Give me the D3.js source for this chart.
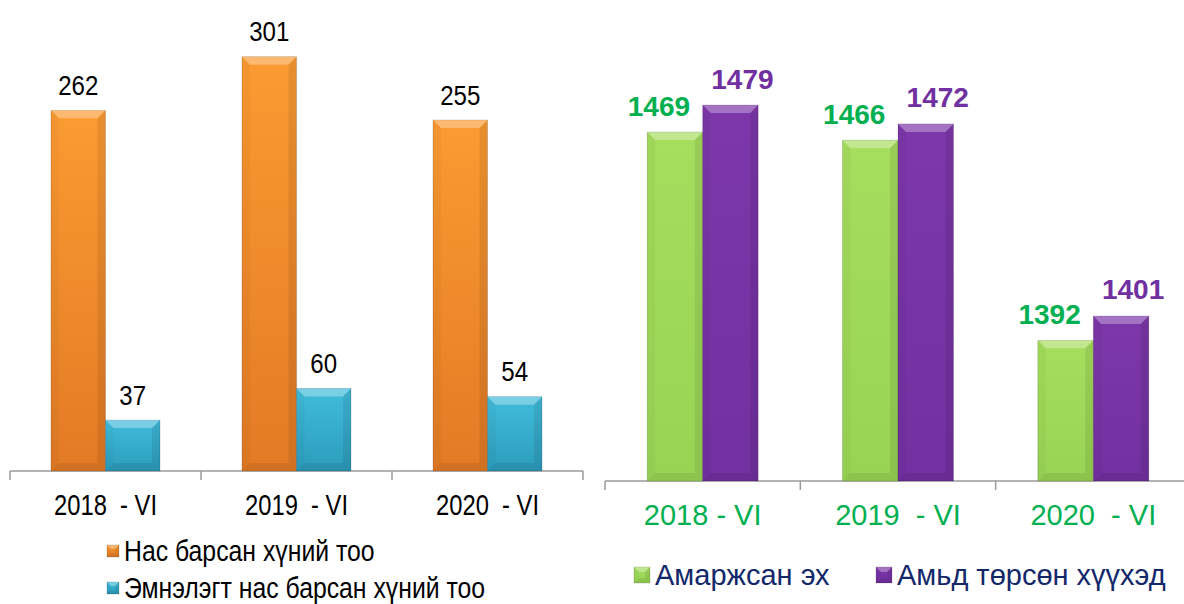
<!DOCTYPE html>
<html>
<head>
<meta charset="utf-8">
<script src="https://cdn.jsdelivr.net/npm/d3@7"></script>
<style>
  body { margin: 0; background: #fff; }
  svg { display: block; font-family: "Liberation Sans", Arial, sans-serif; }
  svg text { white-space: pre; }
</style>
</head>
<body>
<svg id="chart" width="1184" height="604"></svg>
<script>
// data
var leftCats = ['2018  - VI', '2019  - VI', '2020  - VI'],
    rightCats = ['2018 - VI', '2019  - VI', '2020  - VI'],
    deaths = [262, 301, 255],          // Нас барсан хүний тоо
    hospDeaths = [37, 60, 54],         // Эмнэлэгт нас барсан хүний тоо
    mothers = [1469, 1466, 1392],      // Амаржсан эх
    liveBirths = [1479, 1472, 1401],   // Амьд төрсөн хүүхэд
    leftNames = ['Нас барсан хүний тоо', 'Эмнэлэгт нас барсан хүний тоо'],
    rightNames = ['Амаржсан эх', 'Амьд төрсөн хүүхэд'];

var svg = d3.select('#chart'),
    defs = svg.append('defs');

// vertical gradients for the bevelled bars
function grad(id, top, bottom) {
  var g = defs.append('linearGradient').attr('id', id)
    .attr('x1', 0).attr('y1', 0).attr('x2', 0).attr('y2', 1);
  g.append('stop').attr('offset', '0%').attr('stop-color', top);
  g.append('stop').attr('offset', '100%').attr('stop-color', bottom);
}
grad('g-orange', '#FB9B32', '#E27A25');
grad('g-cyan', '#41BCDB', '#2C9CBC');
grad('g-green', '#A6DE5E', '#98D454');
grad('g-purple', '#7D37AA', '#7230A0');

// draws one bevelled bar
function bevelBar(g, x, y, w, h, fill, b) {
  b = Math.min(b || 8, h / 3);
  g.append('rect').attr('x', x).attr('y', y).attr('width', w).attr('height', h)
    .attr('fill', fill).attr('stroke', 'rgba(0,0,0,0.18)').attr('stroke-width', 0.8);
  g.append('polygon')
    .attr('points', [[x, y], [x + w, y], [x + w - b, y + b], [x + b, y + b]].join(' '))
    .attr('fill', '#fff').attr('opacity', 0.3);
  g.append('polygon')
    .attr('points', [[x, y + h], [x + w, y + h], [x + w - b, y + h - b], [x + b, y + h - b]].join(' '))
    .attr('fill', '#000').attr('opacity', 0.08);
  g.append('polygon')
    .attr('points', [[x, y], [x + b, y + b], [x + b, y + h - b], [x, y + h]].join(' '))
    .attr('fill', '#000').attr('opacity', 0.03);
  g.append('polygon')
    .attr('points', [[x + w, y], [x + w - b, y + b], [x + w - b, y + h - b], [x + w, y + h]].join(' '))
    .attr('fill', '#000').attr('opacity', 0.08);
}

// category axis with ticks on the band boundaries
function catAxis(g, x, y0, color, fontSize, labelY, sx) {
  var r = x.range();
  g.append('line').attr('x1', r[0]).attr('x2', r[1]).attr('y1', y0).attr('y2', y0)
    .attr('stroke', '#9a9a9a').attr('stroke-width', 1.5);
  d3.range(x.domain().length + 1).forEach(function(i) {
    var tx = r[0] + i * x.step();
    g.append('line').attr('x1', tx).attr('x2', tx).attr('y1', y0).attr('y2', y0 + 9)
      .attr('stroke', '#9a9a9a').attr('stroke-width', 1.5);
  });
  x.domain().forEach(function(c) {
    var cx = x(c) + x.bandwidth() / 2;
    g.append('text')
      .attr('transform', 'translate(' + cx + ',' + labelY + ') scale(' + sx + ',1)')
      .attr('text-anchor', 'middle').attr('dominant-baseline', 'central')
      .attr('font-size', fontSize).attr('fill', color)
      .text(c);
  });
}

// "Left panel"
(function() {
  var g = svg.append('g'),
      base = 471,
      x = d3.scaleBand().domain(leftCats).range([10, 583]),
      xs = d3.scaleBand().domain([0, 1]).range([0, x.bandwidth()]).paddingOuter(0.752),
      y = d3.scaleLinear().domain([0, 340]).range([base, 3]),
      series = [
        { vals: deaths, fill: 'url(#g-orange)' },
        { vals: hospDeaths, fill: 'url(#g-cyan)' }
      ];

  catAxis(g, x, base, '#000', 29, 505, 0.82);

  series.forEach(function(s, si) {
    s.vals.forEach(function(v, i) {
      var bx = x(leftCats[i]) + xs(si);
      bevelBar(g, bx, y(v), xs.bandwidth(), base - y(v), s.fill);
      g.append('text')
        .attr('transform', 'translate(' + (bx + xs.bandwidth() / 2) + ',' + (y(v) - 25) + ') scale(0.86,1)')
        .attr('text-anchor', 'middle').attr('dominant-baseline', 'central')
        .attr('font-size', 28).attr('fill', '#000')
        .text(v);
    });
  });

  // legend
  var lg = g.append('g');
  leftNames.forEach(function(n, i) {
    var ly = 551 + i * 37;
    bevelBar(lg, 107, ly - 6, 12, 12, series[i].fill, 4);
    lg.append('text')
      .attr('transform', 'translate(124,' + ly + ') scale(0.855,1)')
      .attr('dominant-baseline', 'central')
      .attr('font-size', 29).attr('fill', '#000')
      .text(n);
  });
})();
// end of "Left panel"

// "Right panel"
(function() {
  var g = svg.append('g'),
      base = 481,
      x = d3.scaleBand().domain(rightCats).range([605, 1191]),
      xs = d3.scaleBand().domain([0, 1]).range([0, x.bandwidth()]).paddingOuter(0.76),
      y = d3.scaleLinear().domain([1340, 1500]).range([base, base - 160 * 2.705]),
      series = [
        { vals: mothers, fill: 'url(#g-green)', color: '#00B050', dx: -16 },
        { vals: liveBirths, fill: 'url(#g-purple)', color: '#7030A0', dx: 12 }
      ];

  catAxis(g, x, base, '#00B050', 29, 515, 1);

  series.forEach(function(s, si) {
    s.vals.forEach(function(v, i) {
      var bx = x(rightCats[i]) + xs(si);
      bevelBar(g, bx, y(v), xs.bandwidth(), base - y(v), s.fill);
      g.append('text')
        .attr('x', bx + xs.bandwidth() / 2 + s.dx).attr('y', y(v) - 26)
        .attr('text-anchor', 'middle').attr('dominant-baseline', 'central')
        .attr('font-size', 28).attr('font-weight', 'bold').attr('fill', s.color)
        .text(v);
    });
  });

  // legend
  var lg = g.append('g'),
      lx = [634, 876];
  rightNames.forEach(function(n, i) {
    bevelBar(lg, lx[i], 567, 16, 16, series[i].fill, 5);
    lg.append('text')
      .attr('x', lx[i] + 21).attr('y', 575)
      .attr('dominant-baseline', 'central')
      .attr('font-size', 29).attr('fill', '#12286A')
      .text(n);
  });
})();
// end of "Right panel"
</script>
</body>
</html>
